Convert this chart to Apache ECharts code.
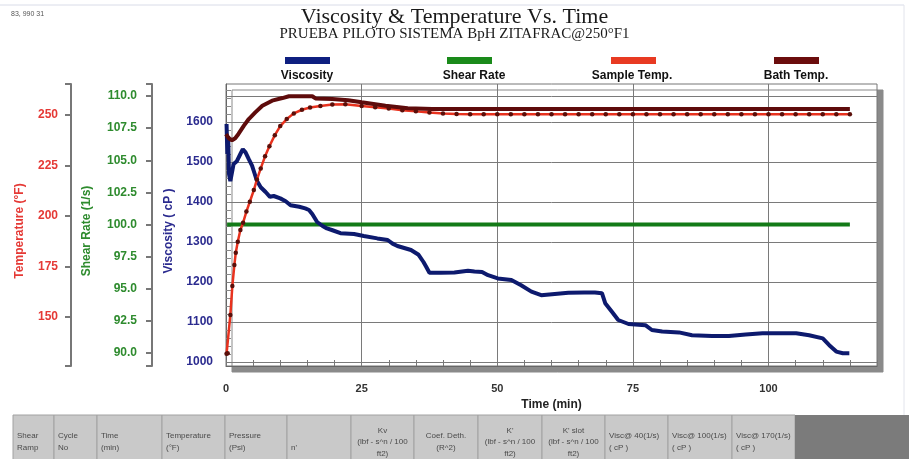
<!DOCTYPE html>
<html><head><meta charset="utf-8">
<script src="https://cdn.jsdelivr.net/npm/echarts@6/dist/echarts.min.js"></script>
<style>html,body{margin:0;padding:0;background:#fff}#c{width:909px;height:459px}</style>
</head><body><div id="c"></div>
<script>
// ---------- text ----------
const titleText = 'Viscosity & Temperature Vs. Time';
const subtitleText = 'PRUEBA PILOTO SISTEMA BpH ZITAFRAC@250°F1';
const cornerText = '83, 990 31';
const seriesNames = ['Viscosity', 'Shear Rate', 'Sample Temp.', 'Bath Temp.'];
const tableHeaders = ['Shear\nRamp', 'Cycle\nNo', 'Time\n(min)', 'Temperature\n(°F)', 'Pressure\n(Psi)', "\nn'",
  'Kv\n(lbf - s^n / 100\nft2)', 'Coef. Deth.\n(R^2)', "K'\n(lbf - s^n / 100\nft2)", "K' slot\n(lbf - s^n / 100\nft2)",
  'Visc@ 40(1/s)\n( cP )', 'Visc@ 100(1/s)\n( cP )', 'Visc@ 170(1/s)\n( cP )'];

// ---------- tick labels ----------
const xTickLabels = [0, 25, 50, 75, 100];
const viscTickLabels = [1000, 1100, 1200, 1300, 1400, 1500, 1600];
const shearTickLabels = [90, 92.5, 95, 97.5, 100, 102.5, 105, 107.5, 110];
const tempTickLabels = [150, 175, 200, 225, 250];

// ---------- data (time in min) ----------
const viscTime = [0.1, 0.25, 0.4, 0.55, 0.8, 1.1, 1.4, 2.0, 2.65, 3.1, 3.6, 4.2, 4.8, 5.3, 5.7, 6.4, 7.3, 8.1, 8.8, 10.0,
  11.0, 11.9, 13.5, 14.6, 15.3, 15.9, 16.8, 17.8, 18.6, 19.5, 21.1, 23.6, 25.4, 27.9, 29.8, 30.7, 31.6, 34.1, 35.5, 36.4,
  36.9, 37.5, 39.6, 42.1, 44.6, 45.8, 47.2, 48.3, 50.1, 52.6, 54.4, 56.3, 58.1, 60.6, 63.1, 66.0, 68.0, 69.3, 69.9, 71.1,
  72.3, 74.2, 77.3, 78.5, 80.4, 83.5, 85.9, 89.6, 92.7, 95.8, 98.9, 102.0, 105.1, 107.5, 110.0, 111.2, 112.5, 113.7, 114.9];
const viscosity = [1595, 1520, 1565, 1470, 1452, 1448, 1495, 1502, 1520, 1532, 1524, 1507, 1491, 1470, 1453, 1437, 1425, 1413, 1415, 1409,
  1402, 1392, 1388, 1384, 1380, 1370, 1350, 1340, 1334, 1330, 1322, 1320, 1315, 1309, 1305, 1296, 1290, 1280, 1268, 1250,
  1238, 1223, 1223, 1224, 1228, 1226, 1225, 1217, 1209, 1205, 1192, 1176, 1167, 1170, 1173, 1174, 1174, 1172, 1147, 1126,
  1105, 1095, 1092, 1080, 1076, 1074, 1067, 1065, 1065, 1069, 1072, 1072, 1072, 1067, 1059, 1042, 1026, 1022, 1022];

const shearTime = [0.2, 115];
const shearRate = [100, 100];

const sampleTime = [0.1, 0.31, 0.8, 1.17, 1.54, 1.8, 2.17, 2.65, 3.15, 3.76, 4.39, 5.13, 5.7, 6.4, 7.2, 8.0, 9.0, 10.0, 11.2, 12.5,
  14.0, 15.5, 17.4, 19.6, 22.0, 25.0, 27.5, 30.0, 32.5, 35.0, 37.5, 40.0, 42.5, 45.0, 47.5, 50.0, 52.5, 55.0, 57.5, 60.0,
  62.5, 65.0, 67.5, 70.0, 72.5, 75.0, 77.5, 80.0, 82.5, 85.0, 87.5, 90.0, 92.5, 95.0, 97.5, 100.0, 102.5, 105.0, 107.5, 110.0,
  112.5, 115.0];
const sampleTemp = [131.6, 131.9, 150.8, 165.2, 175.6, 181.7, 187.2, 193.0, 196.6, 202.1, 207.0, 212.8, 218.0, 223.5, 229.5, 234.5, 240.0, 244.5, 248.0, 250.8,
  252.6, 253.7, 254.5, 255.2, 255.3, 254.5, 253.8, 253.2, 252.4, 251.8, 251.2, 250.8, 250.5, 250.4, 250.4, 250.4, 250.4, 250.4, 250.4, 250.4,
  250.4, 250.4, 250.4, 250.4, 250.4, 250.4, 250.4, 250.4, 250.4, 250.4, 250.4, 250.4, 250.4, 250.4, 250.4, 250.4, 250.4, 250.4, 250.4, 250.4,
  250.4, 250.4];

const bathTime = [0.0, 0.5, 1.1, 1.7, 2.3, 3.3, 4.2, 5.4, 6.7, 8.5, 10.4, 11.6, 15.9, 16.5, 19.6, 22.5, 25.0, 29.4, 33.5, 38.0, 115.0];
const bathTemp = [240.5, 238.5, 237.5, 238.5, 240.6, 244.7, 248.0, 251.3, 254.6, 257.1, 258.4, 259.3, 259.3, 258.2, 257.9, 257.3, 256.3, 254.6, 253.3, 253.0, 253.0];

// ---------- styling ----------
const SANS = 'Liberation Sans, Arial, sans-serif';
const SERIF = 'Liberation Serif, Times New Roman, serif';
const cVisc = '#2b2b8f', cShear = '#2e8b2e', cTemp = '#e53935';
const pairs = (xs, ys) => xs.map((x, i) => [x, ys[i]]);

const xMinorTicks = []; for (let t = 0; t <= 120; t += 5) xMinorTicks.push(t);
const viscMinorTicks = []; for (let v = 1000; v <= 1680; v += 20) viscMinorTicks.push(v);

const gridLine = { silent: true, symbol: ['none', 'none'], label: { show: false }, animation: false, z: 1,
  lineStyle: { color: '#7a7a7a', width: 1, type: 'solid' }, emphasis: { disabled: true } };

// ---------- graphics: table, legend labels, frame ----------
const cellEdges = [13, 54, 97, 162, 225, 287, 351, 414, 478, 542, 605, 668, 732, 795];
const centeredCols = [6, 7, 8, 9];
const graphics = [];
graphics.push({ type: 'line', shape: { x1: 0, y1: 5, x2: 904, y2: 5 }, style: { stroke: '#d9dce8', lineWidth: 1 }, silent: true });
graphics.push({ type: 'line', shape: { x1: 904, y1: 5, x2: 904, y2: 415 }, style: { stroke: '#e2e4ec', lineWidth: 1 }, silent: true });
graphics.push({ type: 'text', x: 11, y: 11, silent: true, style: { text: cornerText, font: '7px ' + SANS, fill: '#555' } });
for (let i = 0; i < tableHeaders.length; i++) {
  const x0 = cellEdges[i], x1 = cellEdges[i + 1];
  graphics.push({ type: 'rect', shape: { x: x0, y: 415, width: x1 - x0, height: 50 }, style: { fill: '#c9c9c9', stroke: '#a2a2a2', lineWidth: 1 }, silent: true });
  const c = centeredCols.includes(i);
  graphics.push({ type: 'text', x: c ? (x0 + x1) / 2 : x0 + 4, y: 442, silent: true, style: {
    text: tableHeaders[i], font: '8px ' + SANS, fill: '#4a4a4a', lineHeight: 11.5,
    align: c ? 'center' : 'left', verticalAlign: 'middle', textAlign: c ? 'center' : 'left', textVerticalAlign: 'middle' } });
}
graphics.push({ type: 'rect', shape: { x: 795, y: 415, width: 114, height: 50 }, style: { fill: '#7b7b7b' }, silent: true });
const legendLeft = [285, 447, 611, 774];
const legendTextX = [307, 474, 632, 796];
const legendColors = ['#0e1f80', '#1a8a1a', '#e83a22', '#6b0d0d'];
seriesNames.forEach((n, i) => {
  graphics.push({ type: 'text', x: legendTextX[i], y: 76, silent: true, style: {
    text: n, font: 'bold 12px ' + SANS, fill: '#111', align: 'center', verticalAlign: 'middle', textAlign: 'center', textVerticalAlign: 'middle' } });
});

const legends = seriesNames.map((n, i) => ({
  left: legendLeft[i], top: 57, padding: 0, itemWidth: 45, itemHeight: 7, icon: 'rect', selectedMode: false,
  formatter: () => '', data: [{ name: n, icon: 'rect', itemStyle: { color: legendColors[i] } }]
}));

const axisName = (color) => ({ color, fontWeight: 'bold', fontSize: 12, fontFamily: SANS, padding: [0, 12, 0, 0] });
const axisLab = (color) => ({ color, fontWeight: 'bold', fontSize: 12, fontFamily: SANS });

const option = {
  animation: false,
  backgroundColor: '#fff',
  title: [
    { text: titleText, left: 'center', top: 1, textStyle: { fontFamily: SERIF, fontSize: 22, fontWeight: 'normal', color: '#1a1a1a' } },
    { text: subtitleText, left: 'center', top: 22, textStyle: { fontFamily: SERIF, fontSize: 15, fontWeight: 'normal', color: '#1a1a1a' } }
  ],
  legend: legends,
  graphic: graphics,
  grid: { left: 226, right: 32, top: 84, bottom: 93, show: true, backgroundColor: '#fff', borderColor: '#777', borderWidth: 1,
    shadowColor: '#8a8a8a', shadowOffsetX: 6, shadowOffsetY: 6, shadowBlur: 0 },
  xAxis: [{
    type: 'value', min: 0, max: 120,
    axisLine: { show: true, lineStyle: { color: '#666' } },
    axisTick: { show: true, inside: true, length: 6, customValues: xMinorTicks, lineStyle: { color: '#777' } },
    axisLabel: { customValues: xTickLabels, margin: 17, color: '#333', fontWeight: 'bold', fontSize: 11, fontFamily: SANS },
    splitLine: { show: false },
    name: 'Time (min)', nameLocation: 'middle', nameGap: 31,
    nameTextStyle: { color: '#222', fontWeight: 'bold', fontSize: 12, fontFamily: SANS }
  }],
  yAxis: [
    { type: 'value', position: 'left', min: 990, max: 1695,
      axisLine: { show: true, lineStyle: { color: '#666' } },
      axisTick: { show: true, inside: true, length: 5, customValues: viscMinorTicks, lineStyle: { color: '#888' } },
      axisLabel: Object.assign({ customValues: viscTickLabels, margin: 13, formatter: v => String(Math.round(v)) }, axisLab(cVisc)),
      splitLine: { show: false },
      name: 'Viscosity ( cP )', nameLocation: 'middle', nameGap: 51, nameTextStyle: axisName(cVisc) },
    { type: 'value', position: 'left', offset: 74, min: 89.0, max: 110.93,
      axisLine: { show: true, lineStyle: { color: '#777', width: 2 } },
      axisTick: { show: true, length: 6, customValues: [89.0].concat(shearTickLabels, [110.93]), lineStyle: { color: '#777', width: 2 } },
      axisLabel: Object.assign({ customValues: shearTickLabels, margin: 15, formatter: v => Number(v).toFixed(1) }, axisLab(cShear)),
      splitLine: { show: false },
      name: 'Shear Rate (1/s)', nameLocation: 'middle', nameGap: 59, nameTextStyle: axisName(cShear) },
    { type: 'value', position: 'left', offset: 155, min: 125.56, max: 265.37,
      axisLine: { show: true, lineStyle: { color: '#777', width: 2 } },
      axisTick: { show: true, length: 6, customValues: [125.56].concat(tempTickLabels, [265.37]), lineStyle: { color: '#777', width: 2 } },
      axisLabel: Object.assign({ customValues: tempTickLabels, margin: 13, formatter: v => String(Math.round(v)) }, axisLab(cTemp)),
      splitLine: { show: false },
      name: 'Temperature (°F)', nameLocation: 'middle', nameGap: 45, nameTextStyle: axisName(cTemp) }
  ],
  series: [
    { name: seriesNames[0], type: 'line', yAxisIndex: 0, data: pairs(viscTime, viscosity), symbol: 'none', z: 3,
      lineStyle: { color: '#0d1a6e', width: 4 }, itemStyle: { color: '#0e1f80' }, emphasis: { disabled: true },
      markLine: Object.assign({ data: viscTickLabels.map(v => ({ yAxis: v })).concat([25, 50, 75, 100].map(t => ({ xAxis: t }))) }, gridLine) },
    { name: seriesNames[1], type: 'line', yAxisIndex: 1, data: pairs(shearTime, shearRate), symbol: 'none', z: 2,
      lineStyle: { color: '#137a17', width: 4 }, itemStyle: { color: '#1a8a1a' }, emphasis: { disabled: true },
      markLine: Object.assign({ data: [{ yAxis: 110 }] }, gridLine) },
    { name: seriesNames[2], type: 'line', yAxisIndex: 2, data: pairs(sampleTime, sampleTemp), symbol: 'circle', symbolSize: 4.5, showSymbol: true, z: 4,
      lineStyle: { color: '#e8321e', width: 2.5 }, itemStyle: { color: '#5a0f0a' }, emphasis: { disabled: true } },
    { name: seriesNames[3], type: 'line', yAxisIndex: 2, data: pairs(bathTime, bathTemp), symbol: 'none', z: 4,
      lineStyle: { color: '#5e0b0b', width: 4 }, itemStyle: { color: '#6b0d0d' }, emphasis: { disabled: true } }
  ]
};
const chart = echarts.init(document.getElementById('c'), null, { renderer: 'canvas' });
chart.setOption(option);
</script></body></html>
